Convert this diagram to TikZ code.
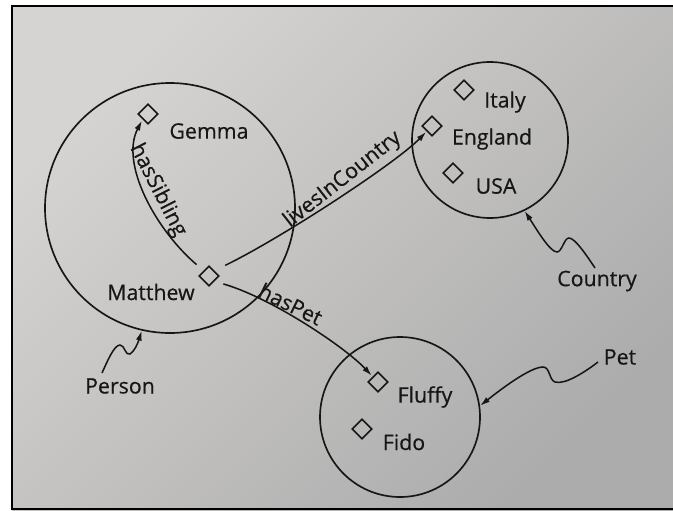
\documentclass[tikz,border=0pt]{standalone}
\usepackage{fontspec}
\setmainfont{Open Sans}[FakeBold=0.5]
\usepackage{tikz}
\usetikzlibrary{positioning,shapes.geometric,arrows.meta}

\definecolor{paperlight}{RGB}{214,212,210}
\definecolor{paperdark}{RGB}{172,172,172}
\definecolor{ink}{RGB}{22,22,22}

\tikzset{
  indiv/.style={draw=ink,diamond,minimum size=15pt,inner sep=0pt,line width=1.15pt},
  setcirc/.style={draw=ink,circle,inner sep=0pt,line width=1.25pt},
  lbl/.style={text=ink,font=\fontsize{16}{18}\selectfont,inner sep=1pt},
  prop/.style={draw=ink,line width=1.15pt,-{Latex[length=7.5pt,width=4.5pt]}},
}

\begin{document}
\begin{tikzpicture}[x=0.75pt,y=0.75pt,yscale=-1,xscale=1]
        \useasboundingbox (0,0) rectangle (673,510);
        
        %Paper and frame
        \fill[white] (0,0) rectangle (673,510);
        \shade[top color=paperlight,bottom color=paperdark,shading angle=45] (12,6) rectangle (673,510);
        \draw[black,line width=1.5pt] (12,510) -- (12,6) -- (673,6) ;
        \draw[black,line width=1.5pt] (12,509) -- (673,509) ;
        
        %Shape: Circle [Person]
        \node[setcirc,minimum size=187.5pt] (personset) at (170,208) {};
        %Shape: Circle [Country]
        \node[setcirc,minimum size=117pt] (countryset) at (490,140) {};
        %Shape: Circle [Pet]
        \node[setcirc,minimum size=120pt] (petset) at (400,417) {};
        
        %Shape: Diamond
        \node[indiv] (gemmadot) at (148,114) {};
        \node[indiv] (matthewdot) at (209,276) {};
        \node[indiv] (italydot) at (464,90) {};
        \node[indiv] (englanddot) at (432,126) {};
        \node[indiv] (usadot) at (453,173) {};
        \node[indiv] (fluffydot) at (378,382) {};
        \node[indiv] (fidodot) at (362,429) {};
        
        % Text Node
        \node[lbl] (gemma) at (209,131) {Gemma};
        % Text Node
        \node[lbl] (matthew) at (151,292) {Matthew};
        % Text Node
        \node[lbl] (italy) at (505,102) {Italy};
        % Text Node
        \node[lbl] (england) at (492,139) {England};
        % Text Node
        \node[lbl] (usa) at (496,186) {USA};
        % Text Node
        \node[lbl] (fluffy) at (425,397) {Fluffy};
        % Text Node
        \node[lbl] (fido) at (404,442) {Fido};
        % Text Node
        \node[lbl] (personlbl) at (120,386) {Person};
        % Text Node
        \node[lbl] (countrylbl) at (597,281) {Country};
        % Text Node
        \node[lbl] (petlbl) at (620,357) {Pet};
        
        %Curve Lines [hasSibling]
        \draw[prop,shorten <=7pt,shorten >=1pt] (matthewdot.north west) .. controls +(-48,-41) and +(-23,44) .. (gemmadot.south west)
            node[lbl,rotate=-63,anchor=south,pos=0.5] {hasSibling};
        
        %Curve Lines [livesInCountry]
        \draw[prop,shorten <=9pt,shorten >=0.5pt] (matthewdot.north east) .. controls +(66,-32) and +(-31,32) .. (englanddot.south west)
            node[lbl,rotate=38,anchor=south,pos=0.57] {livesInCountry};
        
        %Curve Lines [hasPet]
        \draw[prop,shorten <=7pt,shorten >=1pt] (matthewdot.south east) .. controls +(56,16) and +(-28,-30) .. (fluffydot.north west)
            node[lbl,rotate=-26,anchor=south,pos=0.4] {hasPet};
        
        %Squiggles to the sets
        \coordinate (personsq) at (102,373);
        \coordinate (countrysq) at (595,268);
        \coordinate (petsq) at (598,362);
        \draw[prop] (personsq) .. controls (107,362) and (114,345) .. (120,345) .. controls (125,345) and (125,356) .. (130,354) .. controls (134,352) and (138,343) .. (personset.257) ;
        \draw[prop] (countrysq) .. controls (587,256) and (575,238) .. (569,238) .. controls (564,238) and (562,252) .. (557,252) .. controls (550,252) and (537,230) .. (countryset.-64) ;
        \draw[prop] (petsq) .. controls (585,372) and (565,385) .. (555,382) .. controls (549,380) and (550,367) .. (543,367) .. controls (530,367) and (500,390) .. (petset.8) ;
        \end{tikzpicture}
\end{document}
